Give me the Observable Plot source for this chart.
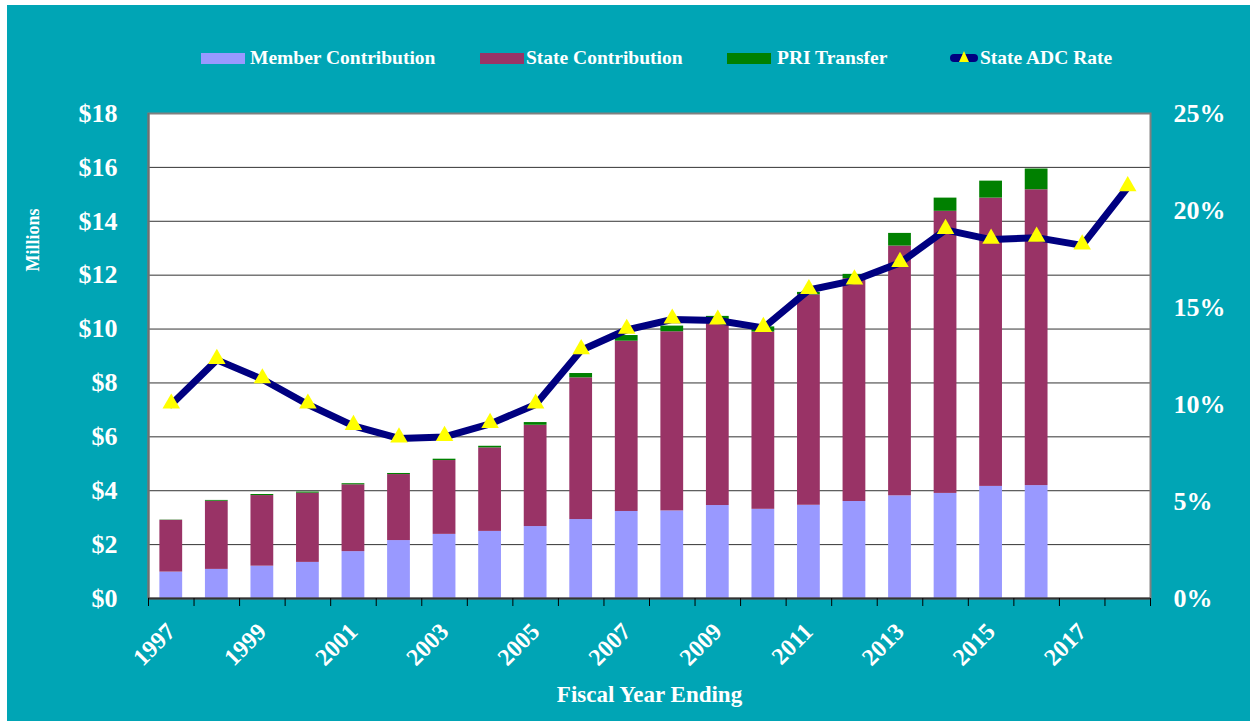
<!DOCTYPE html>
<html><head><meta charset="utf-8">
<script src="https://cdn.jsdelivr.net/npm/d3@7"></script>
<script src="https://cdn.jsdelivr.net/npm/@observablehq/plot@0.6"></script>
<style>
html,body{margin:0;padding:0;background:#00A5B5;}
#wrap{position:relative;width:1250px;height:721px;background:#00A5B5;overflow:hidden;font-family:"Liberation Serif","Times New Roman",serif;font-weight:bold;color:#fff;}
#legend{position:relative;height:90px;}
.item{position:absolute;top:47px;font-size:19.5px;display:flex;align-items:center;height:22px;white-space:nowrap;}
.sw{width:44px;height:11px;margin-right:5px;}
.edge{position:absolute;background:#fff;z-index:5;}
</style></head>
<body><div id="wrap"><div class="edge" style="left:0;top:0;width:1250px;height:5px"></div><div class="edge" style="left:0;top:0;width:7px;height:721px"></div><div id="legend"></div><div id="chart"></div></div>
<script>
// ---- data ----
const barYears = [1997,1998,1999,2000,2001,2002,2003,2004,2005,2006,2007,2008,2009,2010,2011,2012,2013,2014,2015,2016];
const memberContribution = [0.98,1.08,1.20,1.34,1.74,2.15,2.38,2.49,2.67,2.93,3.23,3.25,3.45,3.31,3.46,3.60,3.81,3.90,4.16,4.19];
const stateContribution  = [1.92,2.53,2.62,2.57,2.48,2.45,2.74,3.10,3.76,5.26,6.32,6.65,6.75,6.58,7.81,8.27,9.27,10.47,10.70,10.98];
const priTransfer        = [0.01,0.03,0.04,0.04,0.04,0.04,0.05,0.06,0.10,0.16,0.21,0.21,0.27,0.19,0.09,0.16,0.47,0.49,0.63,0.77];
const rateYears = [1997,1998,1999,2000,2001,2002,2003,2004,2005,2006,2007,2008,2009,2010,2011,2012,2013,2014,2015,2016,2017,2018];
const stateAdcRate = [10.0,12.3,11.3,10.0,8.9,8.25,8.33,9.0,10.0,12.8,13.85,14.38,14.33,13.95,15.9,16.4,17.3,19.0,18.5,18.6,18.2,21.2];
const seriesNames = ["Member Contribution","State Contribution","PRI Transfer"];
const seriesColors = ["#9999FF","#993366","#008000"];
const dollarTicks = [0,2,4,6,8,10,12,14,16,18];
const pctTicks = [0,5,10,15,20,25];
const yearLabels = [1997,1999,2001,2003,2005,2007,2009,2011,2013,2015,2017];

// ---- derived tables ----
const k = 18/25; // percent -> millions axis mapping
const rows = [];
barYears.forEach((yr,i)=>{
  let base = 0;
  [memberContribution,stateContribution,priTransfer].forEach((arr,j)=>{
    rows.push({year:yr, series:seriesNames[j], y1:base, y2:base+arr[i]});
    base += arr[i];
  });
});
const rateRows = rateYears.map((yr,i)=>({year:yr, rate:stateAdcRate[i]}));
const boundaries = d3.range(rateYears[0]-0.5, rateYears[rateYears.length-1]+0.51, 1);

// ---- legend ----
const legend = document.getElementById("legend");
const items = [
  {left:201, html:`<div class="sw" style="background:${seriesColors[0]}"></div>${seriesNames[0]}`},
  {left:480, html:`<div class="sw" style="background:${seriesColors[1]};margin-right:2px"></div>${seriesNames[1]}`},
  {left:727, html:`<div class="sw" style="background:${seriesColors[2]};margin-right:6px"></div>${seriesNames[2]}`},
  {left:950, html:`<svg width="28" height="22" style="margin-right:2px"><line x1="4" y1="11" x2="24" y2="11" stroke="#000080" stroke-width="8" stroke-linecap="round"/><path d="M14,4 L19,15 L9,15 Z" fill="#FFFF00"/></svg>State ADC Rate`}
];
items.forEach(it=>{const d=document.createElement("div");d.className="item";d.style.left=it.left+"px";d.innerHTML=it.html;legend.appendChild(d);});

// ---- chart ----
const font = '"Liberation Serif","Times New Roman",serif';
const chart = Plot.plot({
  width:1250, height:631,
  marginTop:23, marginBottom:123, marginLeft:148, marginRight:100,
  style:{background:"transparent", fontFamily:font, fontWeight:"bold", color:"#fff", overflow:"visible"},
  x:{type:"linear", domain:[boundaries[0], boundaries[boundaries.length-1]], axis:null},
  y:{domain:[0,18], axis:null},
  color:{domain:seriesNames, range:seriesColors},
  marks:[
    Plot.frame({fill:"white", stroke:"none"}),
    Plot.ruleY(dollarTicks.filter(d=>d>0 && d<18), {stroke:"#333", strokeWidth:1}),
    Plot.rect(rows, {x1:d=>d.year-0.25, x2:d=>d.year+0.25, y1:"y1", y2:"y2", fill:"series"}),
    Plot.line(rateRows, {x:"year", y:d=>d.rate*k, stroke:"#000080", strokeWidth:7}),
    Plot.dot(rateRows, {x:"year", y:d=>d.rate*k, symbol:"triangle", r:6.5, fill:"#FFFF00", dy:-1}),
    Plot.frame({stroke:"#808080", strokeWidth:2}),
    Plot.ruleX([boundaries[0]], {stroke:"#707070", strokeWidth:2}),
    Plot.ruleY([0], {stroke:"#333", strokeWidth:2}),
    Plot.axisY({anchor:"left", ticks:dollarTicks, tickFormat:d=>"$"+d, tickSize:0, tickPadding:31, fontSize:26, label:null}),
    Plot.axisY({anchor:"right", ticks:pctTicks.map(p=>p*k), tickFormat:v=>Math.round(v/k)+"%", tickSize:0, tickPadding:23, fontSize:26, label:null}),
    Plot.axisX({anchor:"bottom", ticks:boundaries, tickFormat:()=>"", tickSize:8, stroke:"black", label:null}),
    Plot.axisX({anchor:"bottom", ticks:yearLabels, tickFormat:d=>String(d), tickSize:0, tickPadding:29, tickRotate:-45, fontSize:24, label:null}),
    Plot.text(["Fiscal Year Ending"], {frameAnchor:"bottom", dy:103, fontSize:23, fill:"white", fontWeight:"bold"}),
    Plot.text(["Millions"], {frameAnchor:"left", dx:-115, dy:-116, rotate:-90, textAnchor:"middle", fontSize:18, fill:"white", fontWeight:"bold"})
  ]
});
document.getElementById("chart").appendChild(chart);
</script>
</body></html>
